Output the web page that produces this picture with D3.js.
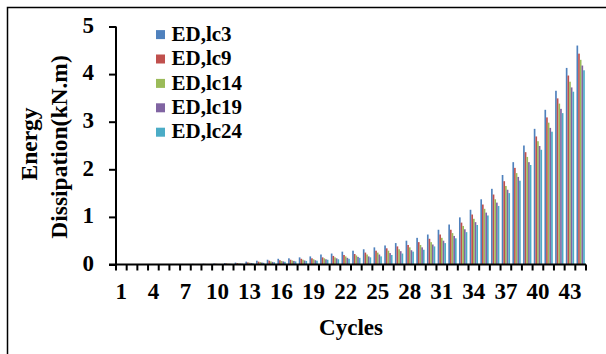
<!DOCTYPE html>
<html>
<head>
<meta charset="utf-8">
<script src="https://cdn.jsdelivr.net/npm/d3@7/dist/d3.min.js"></script>
<style>
  html, body { margin: 0; padding: 0; background: #fff; }
  svg text { font-family: "Liberation Serif", "Times New Roman", serif; font-weight: bold; fill: #000; }
</style>
</head>
<body>
<svg id="chart" width="606" height="354"></svg>
<script>
const cycles = d3.range(1, 45);
const seriesNames = ["ED,lc3", "ED,lc9", "ED,lc14", "ED,lc19", "ED,lc24"];
const seriesColors = ["#4F81BD", "#C0504D", "#9BBB59", "#8064A2", "#4BACC6"];
const lc3 = [0.005,0.006,0.007,0.008,0.009,0.010,0.012,0.014,0.017,0.022,0.030,0.040,0.060,0.080,0.100,0.120,0.130,0.150,0.170,0.210,0.230,0.270,0.290,0.320,0.360,0.400,0.450,0.500,0.560,0.630,0.730,0.840,0.990,1.150,1.370,1.590,1.880,2.150,2.500,2.850,3.250,3.650,4.130,4.600];
const lc9 = [0.004,0.005,0.006,0.006,0.007,0.008,0.009,0.011,0.013,0.017,0.023,0.030,0.045,0.060,0.080,0.090,0.100,0.120,0.130,0.150,0.180,0.200,0.220,0.250,0.290,0.340,0.380,0.410,0.470,0.540,0.630,0.730,0.880,1.050,1.260,1.470,1.750,2.030,2.360,2.690,3.090,3.490,3.970,4.430];
const lc14 = [0.003,0.004,0.005,0.005,0.006,0.007,0.008,0.009,0.011,0.014,0.019,0.025,0.038,0.050,0.065,0.075,0.085,0.100,0.110,0.130,0.150,0.170,0.190,0.210,0.250,0.290,0.320,0.360,0.410,0.470,0.560,0.660,0.810,0.960,1.170,1.370,1.650,1.920,2.260,2.590,2.980,3.380,3.840,4.300];
const lc19 = [0.003,0.003,0.004,0.004,0.005,0.006,0.007,0.008,0.009,0.012,0.016,0.021,0.032,0.042,0.055,0.065,0.075,0.085,0.090,0.110,0.130,0.140,0.160,0.170,0.210,0.240,0.280,0.300,0.360,0.420,0.500,0.600,0.740,0.890,1.090,1.300,1.570,1.840,2.150,2.490,2.870,3.270,3.720,4.180];
const lc24 = [0.002,0.003,0.003,0.004,0.004,0.005,0.006,0.007,0.008,0.010,0.014,0.018,0.027,0.036,0.048,0.057,0.065,0.075,0.080,0.100,0.110,0.120,0.140,0.150,0.170,0.200,0.230,0.270,0.310,0.380,0.450,0.550,0.680,0.830,1.030,1.230,1.500,1.760,2.090,2.410,2.790,3.180,3.630,4.080];
const seriesValues = [lc3, lc9, lc14, lc19, lc24];
const yTicks = [0, 1, 2, 3, 4, 5];
const xLabels = cycles.filter(c => (c - 1) % 3 === 0);

const svg = d3.select("#chart");

// outer border (right and bottom edges fall outside the picture)
svg.append("rect")
  .attr("x", 7.5).attr("y", 7.5).attr("width", 640).attr("height", 400)
  .attr("fill", "none").attr("stroke", "#000").attr("stroke-width", 1.5);

const pLeft = 116, pRight = 586, pTop = 26.5, pBottom = 264.5;

const x = d3.scaleBand().domain(cycles).range([pLeft, pRight]).padding(0);
const x1 = d3.scaleBand().domain(d3.range(seriesNames.length))
  .range([x.bandwidth() * 0.11, x.bandwidth() * 0.89]).padding(0);
const y = d3.scaleLinear().domain([0, 5]).range([pBottom, pTop]);

// bars
const groups = svg.append("g");
seriesValues.forEach((vals, si) => {
  groups.append("g").selectAll("rect")
    .data(vals)
    .join("rect")
    .attr("x", (d, i) => x(cycles[i]) + x1(si))
    .attr("y", d => y(d))
    .attr("width", x1.bandwidth())
    .attr("height", d => y(0) - y(d))
    .attr("fill", seriesColors[si]);
});

// y axis
const yAxis = svg.append("g").attr("transform", `translate(${pLeft},0)`)
  .call(d3.axisLeft(y).tickValues(yTicks).tickSize(7).tickPadding(15).tickFormat(d3.format("d")));
yAxis.selectAll("path, line").attr("stroke", "#000").attr("stroke-width", 2);
yAxis.select(".domain").attr("d", `M0,${pTop}V${pBottom}`);
yAxis.selectAll("text").style("font-size", "23px").attr("dy", "0.25em");

// x axis: ticks at category boundaries
const xAxisG = svg.append("g").attr("transform", `translate(0,${pBottom})`);
xAxisG.append("line").attr("x1", pLeft - 7).attr("x2", pRight).attr("y1", 0).attr("y2", 0)
  .attr("stroke", "#000").attr("stroke-width", 2);
const bounds = cycles.map(c => x(c)).concat([pRight]);
xAxisG.selectAll("line.tk").data(bounds).join("line").attr("class", "tk")
  .attr("x1", d => d).attr("x2", d => d).attr("y1", 0).attr("y2", 6)
  .attr("stroke", "#000").attr("stroke-width", 2);
const xAxis = svg.append("g").attr("transform", `translate(0,${pBottom})`)
  .call(d3.axisBottom(x).tickValues(xLabels).tickSize(0).tickPadding(18));
xAxis.select(".domain").remove();
xAxis.selectAll("text").style("font-size", "23px");

// axis titles
svg.append("text").attr("x", (pLeft + pRight) / 2).attr("y", 335)
  .attr("text-anchor", "middle").style("font-size", "23px").text("Cycles");
svg.append("text").attr("transform", "translate(37,144) rotate(-90)")
  .attr("text-anchor", "middle").style("font-size", "23.5px").text("Energy");
svg.append("text").attr("transform", "translate(66.5,147) rotate(-90)")
  .attr("text-anchor", "middle").style("font-size", "23.5px").text("Dissipation(kN.m)");

// legend
const legend = svg.append("g");
seriesNames.forEach((name, i) => {
  const by = 40.8 + i * 24.4;
  legend.append("rect").attr("x", 156).attr("y", by - 10.7).attr("width", 9).attr("height", 9)
    .attr("fill", seriesColors[i]);
  legend.append("text").attr("x", 171.5).attr("y", by).style("font-size", "21px").text(name);
});
</script>
</body>
</html>
